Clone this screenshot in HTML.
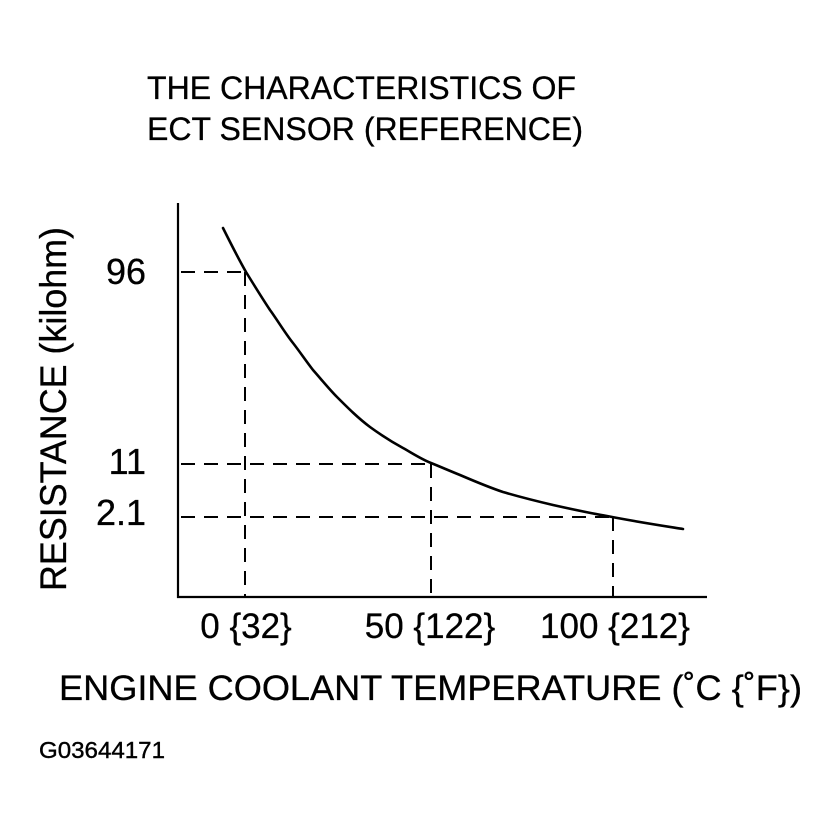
<!DOCTYPE html>
<html>
<head>
<meta charset="utf-8">
<style>
html,body{margin:0;padding:0;background:#fff;}
svg{display:block;}
text{font-family:"Liberation Sans","DejaVu Sans",sans-serif;fill:#000;}
</style>
</head>
<body>
<svg width="838" height="831" viewBox="0 0 838 831" xmlns="http://www.w3.org/2000/svg">
<rect width="838" height="831" fill="#fff"/>
<!-- title -->
<text x="147" y="99" font-size="32" stroke="#000" stroke-width="0.3" textLength="429" lengthAdjust="spacingAndGlyphs">THE CHARACTERISTICS OF</text>
<text x="147" y="140" font-size="32" stroke="#000" stroke-width="0.3" textLength="436" lengthAdjust="spacingAndGlyphs">ECT SENSOR (REFERENCE)</text>

<!-- axes -->
<line x1="178" y1="203" x2="178" y2="598" stroke="#000" stroke-width="2.2"/>
<line x1="177" y1="597" x2="707" y2="597" stroke="#000" stroke-width="2.2"/>

<!-- dashed guides -->
<g stroke="#000" stroke-width="2" stroke-dasharray="14 9" fill="none">
<line x1="181" y1="272" x2="246" y2="272"/>
<line x1="181" y1="464" x2="431" y2="464"/>
<line x1="181" y1="517" x2="613" y2="517"/>
<line x1="245" y1="272" x2="245" y2="597"/>
<line x1="431" y1="464" x2="431" y2="597"/>
<line x1="613" y1="517" x2="613" y2="597"/>
</g>

<!-- curve -->
<path d="M223,228 C231,244 238,258 246,272 C254,285 262,298 270,310 C278,321 285,333 293,343 C300,352 306,361 313,370 C321,379 329,389 337,397 C348,408 358,418 370,427 C381,435 392,442 403,448 C412,453 421,459 431,463 C441,467 450,471 460,475 C474,481 488,487 503,492 C520,497 536,501 553,505 C571,509 589,513 607,516 C632,521 658,525 683,529" fill="none" stroke="#000" stroke-width="2.6" stroke-linecap="round"/>

<!-- y tick labels -->
<text x="146" y="284" font-size="36" stroke="#000" stroke-width="0.3" text-anchor="end">96</text>
<text x="146" y="474" font-size="36" stroke="#000" stroke-width="0.3" text-anchor="end">11</text>
<text x="146" y="525" font-size="36" stroke="#000" stroke-width="0.3" text-anchor="end">2.1</text>

<!-- x tick labels -->
<text x="246" y="638" font-size="35" stroke="#000" stroke-width="0.3" text-anchor="middle">0 {32}</text>
<text x="430" y="638" font-size="35" stroke="#000" stroke-width="0.3" text-anchor="middle">50 {122}</text>
<text x="615" y="638" font-size="35" stroke="#000" stroke-width="0.3" text-anchor="middle">100 {212}</text>

<!-- y axis title -->
<text transform="translate(66,591) rotate(-90)" font-size="37" stroke="#000" stroke-width="0.3" textLength="364" lengthAdjust="spacingAndGlyphs">RESISTANCE (kilohm)</text>

<!-- x axis title -->
<text x="59" y="700" font-size="35" stroke="#000" stroke-width="0.3" textLength="743" lengthAdjust="spacingAndGlyphs">ENGINE COOLANT TEMPERATURE (˚C {˚F})</text>

<!-- figure id -->
<text x="39" y="758" font-size="23" stroke="#000" stroke-width="0.4" textLength="126" lengthAdjust="spacingAndGlyphs">G03644171</text>
</svg>
</body>
</html>
